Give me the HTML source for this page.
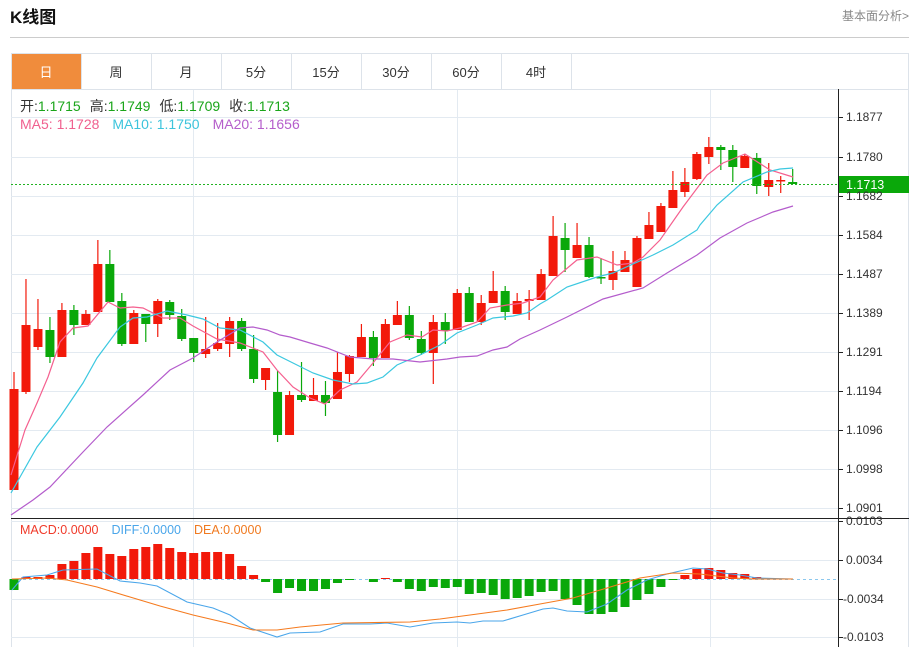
<!DOCTYPE html>
<html><head><meta charset="utf-8">
<style>
body{margin:0;background:#fff;width:921px;height:647px;overflow:hidden;font-family:"Liberation Sans","Noto Sans CJK SC",sans-serif;}
svg{position:absolute;left:0;top:0}
</style></head>
<body>
<svg id="s" width="921" height="647" xmlns="http://www.w3.org/2000/svg" font-family="Liberation Sans, Noto Sans CJK SC, sans-serif">
<text x="10" y="23" font-size="17" font-weight="bold" fill="#111">K线图</text>
<text x="909" y="20" font-size="12" fill="#888" text-anchor="end">基本面分析&gt;</text>
<line x1="10" y1="37.5" x2="909" y2="37.5" stroke="#ccc"/>
<rect x="11.5" y="53.5" width="897" height="600" fill="none" stroke="#dde3ea"/>
<line x1="11" y1="89.5" x2="909" y2="89.5" stroke="#dde3ea"/>
<rect x="12" y="54" width="69" height="35" fill="#f08c3c"/>
<g id="tabs" font-size="13" fill="#333" text-anchor="middle"></g>
<g id="grid" stroke="#e3eaf1" stroke-width="1"></g>
<g id="main"></g>
<line x1="838.5" y1="89" x2="838.5" y2="647" stroke="#222"/>
<line x1="11" y1="518.5" x2="909" y2="518.5" stroke="#222"/>
<text y="111" font-size="14"><tspan x="20" fill="#333">开:</tspan><tspan fill="#1aa51a">1.1715</tspan><tspan dx="9" fill="#333">高:</tspan><tspan fill="#1aa51a">1.1749</tspan><tspan dx="9" fill="#333">低:</tspan><tspan fill="#1aa51a">1.1709</tspan><tspan dx="9" fill="#333">收:</tspan><tspan fill="#1aa51a">1.1713</tspan></text>
<text y="129" font-size="14"><tspan x="20" fill="#f0608f">MA5: 1.1728</tspan><tspan dx="13" fill="#3cc4dc">MA10: 1.1750</tspan><tspan dx="13" fill="#b55ecb">MA20: 1.1656</tspan></text>
<text y="534" font-size="12.5"><tspan x="20" fill="#f03a2a">MACD:0.0000</tspan><tspan dx="13" fill="#4aa6ea">DIFF:0.0000</tspan><tspan dx="13" fill="#f07a20">DEA:0.0000</tspan></text>
<line x1="11" y1="184.5" x2="838" y2="184.5" stroke="#22b322" stroke-dasharray="2,2"/>
<rect x="839" y="176" width="70" height="17" fill="#0aa80a"/>
<text x="846" y="189" font-size="12.5" fill="#fff">1.1713</text>
<g id="axis" font-size="12" fill="#333"></g>
</svg>
<script>
const NS="http://www.w3.org/2000/svg",S=document.getElementById('s');
function el(p,t,a,txt){const e=document.createElementNS(NS,t);for(const k in a)e.setAttribute(k,a[k]);if(txt)e.textContent=txt;document.getElementById(p)?document.getElementById(p).appendChild(e):S.appendChild(e);return e;}
const tabs=['日','周','月','5分','15分','30分','60分','4时'];
tabs.forEach((t,i)=>{const x=11+70*i;el('tabs','text',{x:x+35,y:77,fill:i==0?'#fff':'#333'},t);if(i>0)el('tabs','line',{x1:x+.5,y1:54,x2:x+.5,y2:89,stroke:'#dde3ea'});});
el('tabs','line',{x1:571.5,y1:54,x2:571.5,y2:89,stroke:'#dde3ea'});
const ticks=[['1.1877',117],['1.1780',157],['1.1682',196],['1.1584',235],['1.1487',274],['1.1389',313],['1.1291',352],['1.1194',391],['1.1096',430],['1.0998',469],['1.0901',508]];
ticks.forEach(([t,y])=>{el('grid','line',{x1:11,y1:y+.5,x2:838,y2:y+.5});el('axis','line',{x1:838,y1:y+.5,x2:843,y2:y+.5,stroke:'#222'});el('axis','text',{x:846,y:y+4},t);});
[[' 0.0103',521],[' 0.0034',560],['-0.0034',599],['-0.0103',637]].forEach(([t,y])=>{el('grid','line',{x1:11,y1:y+.5,x2:838,y2:y+.5});el('axis','line',{x1:838,y1:y+.5,x2:843,y2:y+.5,stroke:'#222'});el('axis','text',{x:t[0]=='-'?843:846,y:y+4},t.trim());});
[193,457,710].forEach(x=>el('grid','line',{x1:x+.5,y1:90,x2:x+.5,y2:647}));
const R='#f2190a',G='#0aa80a';
const C=[[372,389,490,490,R],[279,325,392,394,R],[299,329,347,350,R],[317,330,357,363,G],[303,310,357,357,R],[305,310,325,335,G],[310,314,325,325,R],[240,264,312,312,R],[250,264,302,302,G],[293,301,344,346,G],[310,313,344,344,R],[314,314,324,342,G],[299,301,324,337,R],[300,302,315,320,G],[309,316,339,341,G],[338,338,353,362,G],[317,349,354,358,R],[323,343,349,351,R],[317,321,344,357,R],[318,321,349,351,G],[335,349,379,383,G],[368,368,380,390,R],[371,392,435,442,G],[391,395,435,435,R],[362,395,400,402,G],[378,395,401,401,R],[381,395,403,416,G],[352,372,399,399,R],[355,356,374,382,R],[324,337,357,357,R],[331,337,358,366,G],[319,324,358,358,R],[301,315,325,325,R],[306,315,338,340,G],[331,339,353,355,G],[315,322,353,384,R],[313,322,331,344,G],[289,293,330,330,R],[287,293,322,322,G],[295,303,322,325,R],[271,291,303,303,R],[286,291,312,320,G],[293,301,314,314,R],[290,299,301,320,R],[269,274,300,300,R],[216,236,276,276,R],[223,238,250,272,G],[223,245,258,258,R],[237,245,277,278,G],[258,277,278,284,G],[251,271,280,290,R],[251,260,272,272,R],[236,238,287,287,R],[212,225,239,239,R],[203,206,232,232,R],[171,190,208,208,R],[168,182,192,197,R],[152,154,179,180,R],[137,147,157,164,R],[145,147,150,170,G],[145,150,167,182,G],[154,156,168,168,R],[153,158,186,194,G],[163,180,187,196,R],[176,180,181,193,R],[169,182,184,184,G]];
const X=i=>14+i*11.98;
C.forEach((c,i)=>{const x=X(i);el('main','line',{x1:x,y1:c[0],x2:x,y2:c[3],stroke:c[4],'stroke-width':1.2});el('main','rect',{x:x-4.5,y:c[1],width:9,height:Math.max(1.5,c[2]-c[1]),fill:c[4]});});
function pl(pts,col){el('main','polyline',{points:pts,fill:'none',stroke:col,'stroke-width':1.2});}
pl('11,475 25,430 37,403 48,377 60,342 73,328 88,326 108,302 120,308 133,307 143,308 163,318 180,318 193,326 217,339 240,343 263,352 277,370 293,387 310,398 325,404 340,390 357,382 373,363 390,342 407,335 422,337 433,330 447,331 460,328 477,322 490,308 507,305 523,303 540,297 553,280 577,260 597,257 617,265 633,263 643,257 660,240 683,207 707,175 723,163 745,154 770,170 793,177','#f5608f');
pl('11,493 37,447 60,417 83,383 97,358 120,327 133,318 147,317 167,311 187,315 203,319 220,328 240,330 263,342 277,355 293,363 313,373 333,380 353,384 367,383 383,377 397,365 420,355 440,345 457,333 477,325 493,318 513,316 527,313 540,304 547,300 567,287 597,277 613,273 633,264 653,255 673,245 697,230 700,225 717,205 743,182 767,172 780,169 793,168','#3cc8e0');
pl('11,515 33,500 50,487 83,452 107,427 143,395 170,370 193,358 217,342 240,328 253,327 267,330 280,335 290,337 310,343 327,348 350,357 373,359 393,359 420,362 447,359 460,357 477,356 493,350 507,347 520,339 540,330 567,317 603,299 643,288 667,273 697,255 720,238 747,223 773,212 793,206','#b45ccc');
el('main','line',{x1:11,y1:579.5,x2:838,y2:579.5,stroke:'#8cc8ee','stroke-dasharray':'3,3'});
const M={0:590,1:577,2:577,3:575,4:564,5:561,6:553,7:547,8:554,9:556,10:549,11:547,12:544,13:548,14:552,15:553,16:552,17:552,18:554,19:566,20:575,21:582,22:593,23:588,24:591,25:591,26:589,27:583,28:580,30:582,31:578,32:582,33:589,34:591,35:587,36:588,37:587,38:594,39:593,40:595,41:599,42:598,43:596,44:592,45:591,46:599,47:605,48:614,49:614,50:612,51:607,52:600,53:594,54:587,55:580,56:575,57:569,58:568,59:570,60:573,61:574,62:577,63:578};
for(const k in M){const i=+k,y=M[k],x=X(i);const up=y<579;el('main','rect',{x:x-4.5,y:up?y:579,width:9,height:Math.max(1,Math.abs(y-579)),fill:up?R:G});}
el('main','polyline',{points:'12,590 23,577 47,575 63,570 97,569 120,581 140,583 157,586 187,602 213,608 230,615 250,628 277,637 290,633 320,632 343,624 370,624 387,623 410,627 433,623 457,622 470,623 483,621 503,621 523,615 543,609 553,608 567,611 587,612 607,604 627,590 647,580 667,574 693,568 707,569 723,573 740,575 757,578 793,579',fill:'none',stroke:'#4aa6ea','stroke-width':1.1});
el('main','polyline',{points:'12,579 47,578 67,580 97,587 130,597 160,606 193,615 227,623 253,630 277,630 300,627 343,623 410,622 440,619 470,615 507,610 540,604 573,598 607,588 640,578 673,573 700,574 733,578 753,579 793,579',fill:'none',stroke:'#f57a1e','stroke-width':1.1});
</script>
</body></html>
